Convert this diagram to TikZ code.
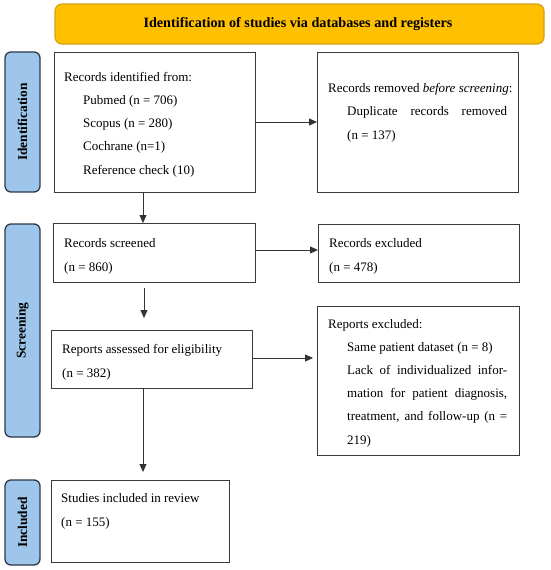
\documentclass[tikz,border=0pt]{standalone}
\usepackage{fontspec}
\setmainfont{Liberation Serif}
\usetikzlibrary{arrows.meta}
\definecolor{bannerfill}{HTML}{FFC000}
\definecolor{bannerdraw}{HTML}{D4A010}
\definecolor{labelfill}{HTML}{9DC6EA}
\definecolor{labeldraw}{HTML}{2B3A4A}
\definecolor{boxdraw}{HTML}{3A3A3A}
\definecolor{arrowcol}{HTML}{333333}
\begin{document}
\begin{tikzpicture}[x=1pt,y=-1pt,
  boxstyle/.style={draw=boxdraw,line width=1.3pt,fill=white,inner sep=0pt},
  labelstyle/.style={draw=labeldraw,line width=1.3pt,fill=labelfill,rounded corners=6pt,inner sep=0pt},
  bannerstyle/.style={draw=bannerdraw,line width=1.2pt,fill=bannerfill,rounded corners=7pt,inner sep=0pt},
  bodytext/.style={inner sep=0pt,anchor=base west,align=left,font=\fontsize{13}{23.2}\selectfont},
  sidetext/.style={font=\fontsize{13.4}{14}\selectfont\bfseries,rotate=90,inner sep=0pt},
  flow/.style={draw=arrowcol,line width=0.8pt,-{Triangle[length=8pt,width=7pt]}}
]
\useasboundingbox (0,0) rectangle (550,570);
% banner
\path[bannerstyle] (55,4) rectangle (544,44);
\node[font=\fontsize{14.2}{15}\selectfont\bfseries,inner sep=0pt] (bannertext) at (298,24) {Identification of studies via databases and registers};
% side labels
\path[labelstyle] (5,52) rectangle (40,192);
\node[sidetext] (lidt) at (22.5,122) {Identification};
\path[labelstyle] (5,224) rectangle (40,437);
\node[sidetext] (lscr) at (22.5,330.5) {Screening};
\path[labelstyle] (5,480) rectangle (40,565);
\node[sidetext] (linc) at (22.5,522.5) {Included};
% boxes
\node[boxstyle,minimum width=201pt,minimum height=140pt,anchor=north west] (b1) at (54,52) {};
\node[boxstyle,minimum width=201pt,minimum height=140pt,anchor=north west] (b2) at (317,52) {};
\node[boxstyle,minimum width=202pt,minimum height=59pt,anchor=north west] (b3) at (53,223) {};
\node[boxstyle,minimum width=201pt,minimum height=58pt,anchor=north west] (b4) at (318,224) {};
\node[boxstyle,minimum width=201pt,minimum height=58pt,anchor=north west] (b5) at (51,330) {};
\node[boxstyle,minimum width=202pt,minimum height=149pt,anchor=north west] (b6) at (317,306) {};
\node[boxstyle,minimum width=178pt,minimum height=82pt,anchor=north west] (b7) at (51,480) {};
% texts (anchored at the baseline of their last line)
\node[bodytext] (t1) at (64,174) {Records identified from:\\
\hspace*{19pt}Pubmed (n = 706)\\
\hspace*{19pt}Scopus (n = 280)\\
\hspace*{19pt}Cochrane (n=1)\\
\hspace*{19pt}Reference check (10)};
\node[bodytext] (t2) at (328,139) {Records removed \emph{before screening}:\\
\hspace*{19pt}\makebox[160pt][s]{Duplicate records removed}\\
\hspace*{19pt}(n = 137)};
\node[bodytext] (t3) at (64,271) {Records screened\\(n = 860)};
\node[bodytext] (t4) at (329,271) {Records excluded\\(n = 478)};
\node[bodytext] (t5) at (62,377) {Reports assessed for eligibility\\(n = 382)};
\node[bodytext] (t6) at (328,444) {Reports excluded:\\
\hspace*{19pt}Same patient dataset (n = 8)\\
\hspace*{19pt}\makebox[160pt][s]{Lack of individualized infor-}\\
\hspace*{19pt}\makebox[160pt][s]{mation for patient diagnosis,}\\
\hspace*{19pt}\makebox[160pt][s]{treatment, and follow-up (n =}\\
\hspace*{19pt}219)};
\node[bodytext] (t7) at (61,526) {Studies included in review\\(n = 155)};
% connectors
\draw[flow] (b1.east |- 0,122) -- (b2.west |- 0,122);
\draw[flow] (b1.south -| 143,0) -- (b3.north -| 143,0);
\draw[flow] (b3.east |- 0,250) -- (b4.west |- 0,250);
\draw[flow,shorten <=5pt,shorten >=12pt] (b3.south -| 144,0) -- (b5.north -| 144,0);
\draw[flow,shorten >=4pt] (b5.east |- 0,358) -- (b6.west |- 0,358);
\draw[flow,shorten >=8pt] (b5.south -| 143,0) -- (b7.north -| 143,0);
\end{tikzpicture}
\end{document}
